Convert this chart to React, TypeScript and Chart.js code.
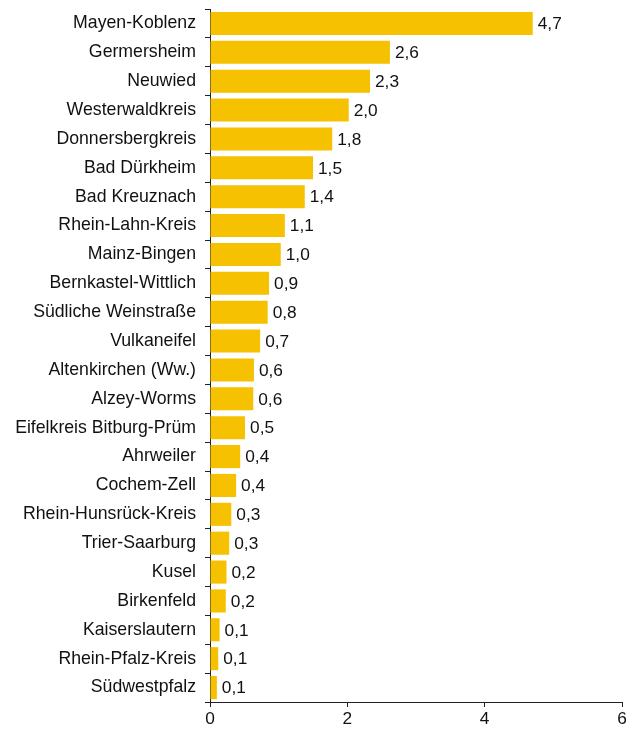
import React, { useEffect, useRef } from "react";
import { Chart, registerables } from "chart.js";

Chart.register(...registerables);

const categories = [
  "Mayen-Koblenz",
  "Germersheim",
  "Neuwied",
  "Westerwaldkreis",
  "Donnersbergkreis",
  "Bad Dürkheim",
  "Bad Kreuznach",
  "Rhein-Lahn-Kreis",
  "Mainz-Bingen",
  "Bernkastel-Wittlich",
  "Südliche Weinstraße",
  "Vulkaneifel",
  "Altenkirchen (Ww.)",
  "Alzey-Worms",
  "Eifelkreis Bitburg-Prüm",
  "Ahrweiler",
  "Cochem-Zell",
  "Rhein-Hunsrück-Kreis",
  "Trier-Saarburg",
  "Kusel",
  "Birkenfeld",
  "Kaiserslautern",
  "Rhein-Pfalz-Kreis",
  "Südwestpfalz",
];

const values = [
  4.7, 2.62, 2.33, 2.02, 1.78, 1.5, 1.38, 1.09, 1.03, 0.86, 0.84, 0.73, 0.64,
  0.63, 0.51, 0.44, 0.38, 0.31, 0.28, 0.24, 0.23, 0.14, 0.12, 0.1,
];

const xTicks = [0, 2, 4, 6];

const FONT = "'Liberation Sans', Arial, sans-serif";
const BAR_COLOR = "#F5C100";
const TEXT_COLOR = "#111111";

const valueLabelPlugin = {
  id: "valueLabels",
  afterDatasetsDraw(chart: any) {
    const ctx = chart.ctx;
    const meta = chart.getDatasetMeta(0);
    ctx.save();
    ctx.font = `17.3px ${FONT}`;
    ctx.fillStyle = TEXT_COLOR;
    ctx.textAlign = "left";
    ctx.textBaseline = "middle";
    meta.data.forEach((bar: any, i: number) => {
      const txt = values[i].toFixed(1).replace(".", ",");
      ctx.fillText(txt, bar.x + 5, bar.y + 1);
    });
    ctx.restore();
  },
};

export default function App() {
  const canvasRef = useRef<HTMLCanvasElement | null>(null);

  useEffect(() => {
    if (!canvasRef.current) return;
    const chart = new Chart(canvasRef.current, {
      type: "bar",
      data: {
        labels: categories,
        datasets: [
          {
            data: values,
            backgroundColor: BAR_COLOR,
            borderWidth: 0,
            barPercentage: 1,
            categoryPercentage: 0.8,
          },
        ],
      },
      options: {
        indexAxis: "y",
        animation: false,
        responsive: false,
        maintainAspectRatio: false,
        layout: { padding: { top: 9, right: 14, bottom: 0, left: 0 } },
        plugins: {
          legend: { display: false },
          tooltip: { enabled: false },
        },
        scales: {
          x: {
            min: 0,
            max: 6,
            afterBuildTicks(scale: any) {
              scale.ticks = xTicks.map((v) => ({ value: v }));
            },
            afterFit(scale: any) {
              scale.height = 27;
            },
            border: { display: true, color: "#222", width: 1 },
            grid: {
              drawOnChartArea: false,
              drawTicks: true,
              tickLength: 5,
              color: "#222",
            },
            ticks: {
              color: TEXT_COLOR,
              font: { family: FONT, size: 17.3 },
              padding: 2,
              maxRotation: 0,
            },
          },
          y: {
            afterFit(scale: any) {
              scale.width = 210;
              scale.paddingTop = 0;
              scale.paddingBottom = 0;
            },
            border: { display: true, color: "#222", width: 1 },
            grid: {
              drawOnChartArea: false,
              drawTicks: true,
              tickLength: 5,
              color: "#222",
              offset: true,
            },
            ticks: {
              color: TEXT_COLOR,
              font: { family: FONT, size: 17.7 },
              padding: 9,
              autoSkip: false,
            },
          },
        },
      },
      plugins: [valueLabelPlugin],
    });
    return () => chart.destroy();
  }, []);

  return (
    <div style={{ position: "fixed", left: 0, top: 0, width: 636, height: 729, background: "#fff" }}>
      <canvas ref={canvasRef} width={636} height={729} style={{ width: 636, height: 729 }} />
    </div>
  );
}
